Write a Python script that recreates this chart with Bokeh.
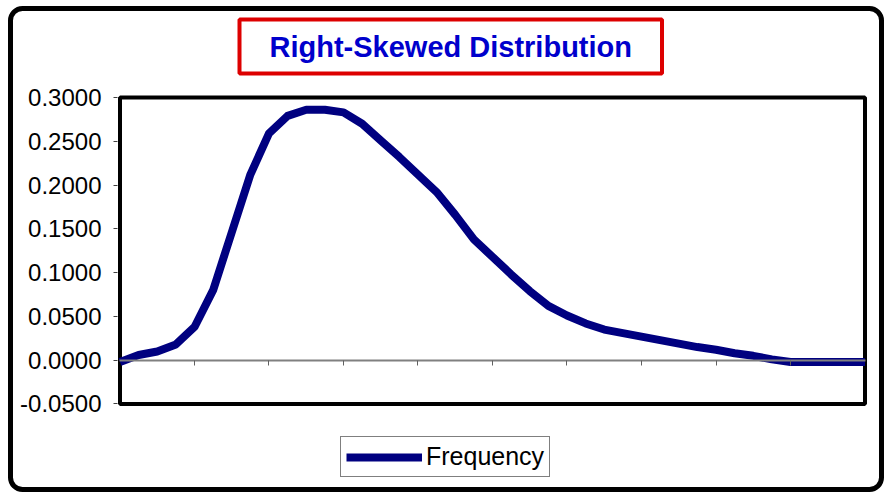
from urllib.parse import quote
from bokeh.plotting import figure
from bokeh.models import (Range1d, FixedTicker, NumeralTickFormatter, Legend,
                          LegendItem, Title, ColumnDataSource, BoxAnnotation)
from bokeh.embed import file_html
from bokeh.resources import INLINE

# ---- data ----
x_index = list(range(41))
frequency = [-0.002, 0.006, 0.010, 0.018, 0.038, 0.080, 0.146, 0.212, 0.259, 0.279,
             0.286, 0.286, 0.283, 0.270, 0.251, 0.232, 0.212, 0.192, 0.166, 0.138,
             0.118, 0.098, 0.079, 0.062, 0.051, 0.042, 0.035, 0.031, 0.027, 0.023,
             0.019, 0.015, 0.012, 0.008, 0.005, 0.001, -0.002, -0.002, -0.002, -0.002,
             -0.002]
x_ticks = [4, 8, 12, 16, 20, 24, 28, 32, 36]
y_ticks = [-0.05, 0.0, 0.05, 0.10, 0.15, 0.20, 0.25, 0.30]
x_min, x_max = 0, 40          # category span of the plot area
y_min, y_max = -0.05, 0.30    # value span of the plot area
title_text = "Right-Skewed Distribution"
series_name = "Frequency"

FONT = "Liberation Sans"

# the frame is a little larger than the plot area so the legend fits inside it
p = figure(frame_width=752, frame_height=398, output_backend="svg",
           toolbar_location=None,
           x_range=Range1d(-0.1342, 40.2416), y_range=Range1d(-0.143067, 0.311419),
           min_border_left=117, min_border_right=15, min_border_top=87,
           min_border_bottom=8)

# outer rounded chart border (CSS background, seen through the transparent canvas)
border_svg = ("<svg xmlns='http://www.w3.org/2000/svg' width='884' height='493'>"
              "<rect x='10.5' y='8.5' width='871' height='481' rx='12' ry='12' "
              "fill='none' stroke='black' stroke-width='5'/></svg>")
p.styles = {"background-color": "white",
            "background-image": 'url("data:image/svg+xml,' + quote(border_svg) + '")',
            "background-repeat": "no-repeat"}

p.background_fill_alpha = 0
p.border_fill_alpha = 0
p.outline_line_color = None
p.xgrid.visible = False
p.ygrid.visible = False

# plot-area border
area = BoxAnnotation(left=x_min, right=x_max, bottom=y_min, top=y_max,
                     fill_color=None, fill_alpha=0, line_color="black",
                     line_alpha=1.0, line_width=4, level="underlay")
p.add_layout(area)

# x axis drawn at y = 0, no labels
p.xaxis.fixed_location = 0
p.xaxis.bounds = (x_min, x_max)
p.xaxis.ticker = FixedTicker(ticks=x_ticks)
p.xaxis.major_label_overrides = {t: "" for t in x_ticks}
p.xaxis.major_label_standoff = 0
p.xaxis.axis_line_color = "#808080"
p.xaxis.axis_line_width = 2
p.xaxis.major_tick_line_color = "#606060"
p.xaxis.major_tick_line_width = 1
p.xaxis.major_tick_in = 0
p.xaxis.major_tick_out = 5
p.xaxis.minor_tick_line_color = None

# y axis
p.yaxis.ticker = FixedTicker(ticks=y_ticks)
p.yaxis.formatter = NumeralTickFormatter(format="0.0000")
p.yaxis.axis_line_color = None
p.yaxis.major_tick_line_color = "#404040"
p.yaxis.major_tick_in = 0
p.yaxis.major_tick_out = 4
p.yaxis.minor_tick_line_color = None
p.yaxis.major_label_text_font = FONT
p.yaxis.major_label_text_font_size = "24px"
p.yaxis.major_label_text_color = "black"
p.yaxis.major_label_standoff = 12

src = ColumnDataSource(dict(x=x_index, y=frequency))
r = p.line("x", "y", source=src, line_color="#000080", line_width=8,
           line_join="round")

# title with red box
t = Title(text=title_text, align="left", offset=122, standoff=28,
          text_font=FONT, text_font_style="bold", text_font_size="29px",
          text_color="#0000CC",
          border_line_color="#DD0000", border_line_width=4,
          background_fill_color="white",
          padding=dict(left=30, right=30, top=11, bottom=11))
p.add_layout(t, "above")

legend = Legend(items=[LegendItem(label=series_name, renderers=[r])],
                location=(223, 8), orientation="horizontal",
                border_line_color="black", border_line_width=1,
                background_fill_color="white", padding=5, margin=0,
                glyph_width=76, glyph_height=24, label_standoff=4,
                label_height=24, label_text_font=FONT,
                label_text_font_size="25px", label_text_color="black")
p.add_layout(legend, "center")

open("out.html", "w").write(file_html(p, INLINE))
